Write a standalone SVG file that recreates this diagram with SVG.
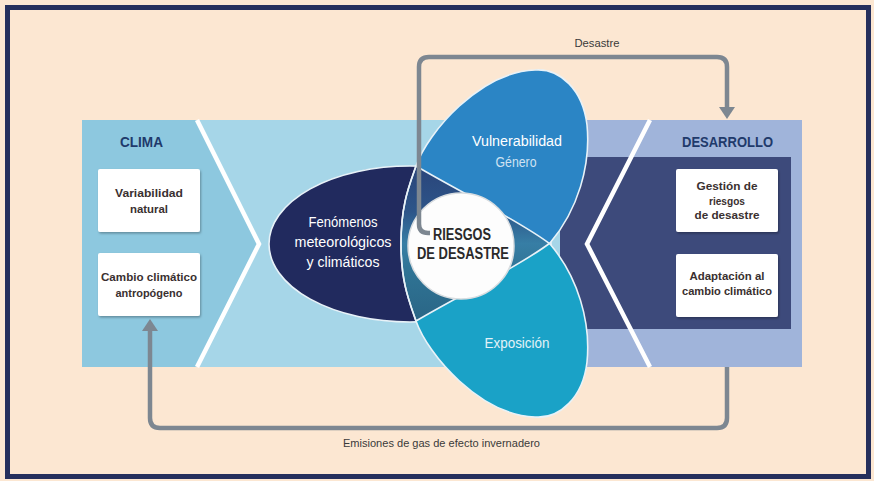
<svg xmlns="http://www.w3.org/2000/svg" width="874" height="481" viewBox="0 0 874 481">
<style>
.t{font-family:"Liberation Sans",Arial,sans-serif}
.box{fill:#ffffff;filter:url(#sh)}
.bt{font-family:"Liberation Sans",Arial,sans-serif;font-weight:bold;font-size:11.5px;fill:#3a3030;text-anchor:middle}
.hd{font-family:"Liberation Sans",Arial,sans-serif;font-weight:bold;font-size:15px;fill:#1f3a6b;text-anchor:middle}
.et{font-family:"Liberation Sans",Arial,sans-serif;font-size:14px;fill:#ffffff;text-anchor:middle}
.lb{font-family:"Liberation Sans",Arial,sans-serif;font-size:11px;fill:#3a3a3a;text-anchor:middle}
.conn{fill:none;stroke:#7d8791;stroke-width:4.5}
.chev{fill:none;stroke:#ffffff;stroke-width:4.5}
.edge{fill:none;stroke:#e8f2f8;stroke-width:1.6}
</style>
<defs>
<filter id="sh" x="-10%" y="-10%" width="130%" height="140%">
<feDropShadow dx="1" dy="1.5" stdDeviation="1.2" flood-color="#000000" flood-opacity="0.3"/>
</filter>
<marker id="ah" viewBox="0 0 12 16" refX="0" refY="8" markerWidth="12" markerHeight="16" markerUnits="userSpaceOnUse" orient="auto">
<path d="M0,0 L12,8 L0,16 Z" fill="#7d8791"/>
</marker>
<path id="vpath" d="M401,243.5 C401,205 409,186 416,166 C428,132 480,72 535,70 C560,68 583,90 587,125 C591,165 578,210 550,243 C520,266 460,295 416,321 C409,301 401,282 401,243.5 Z"/>
<clipPath id="eclip"><use href="#vpath" transform="matrix(1 0 0 -1 0 487)"/></clipPath>
<linearGradient id="lensg" gradientUnits="userSpaceOnUse" x1="0" y1="164" x2="0" y2="323">
<stop offset="0" stop-color="#2a4479"/>
<stop offset="0.3" stop-color="#2d5589"/>
<stop offset="0.5" stop-color="#377ea5"/>
<stop offset="0.68" stop-color="#2f7394"/>
<stop offset="1" stop-color="#2a6585"/>
</linearGradient>
</defs>

<rect x="0" y="0" width="874" height="481" fill="#fce7d2"/>
<rect x="7.5" y="7.5" width="861" height="469" fill="none" stroke="#252f5c" stroke-width="5"/>

<g id="bands">
<rect x="82" y="120" width="490" height="247" fill="#a6d6e8"/>
<polygon points="82,120 197,120 259,244 197,367 82,367" fill="#8dc8df"/>
<rect x="560" y="120" width="242" height="247" fill="#a0b4da"/>
<rect x="560" y="157" width="231" height="172" fill="#3d4a7b"/>
<path class="chev" d="M197,120 L259,244 L197,367"/>
<path class="chev" d="M650,120 L587,244 L650,367"/>
</g>

<g id="clima">
<text class="hd" x="141.5" y="147" textLength="43" lengthAdjust="spacingAndGlyphs">CLIMA</text>
</g>
<g id="desarrollo">
<text class="hd" x="727.5" y="147" textLength="91" lengthAdjust="spacingAndGlyphs">DESARROLLO</text>
</g>

<g id="variabilidad">
<rect class="box" x="98" y="169" width="102" height="63" rx="2"/>
<text class="bt" x="149" y="197" textLength="68" lengthAdjust="spacingAndGlyphs">Variabilidad</text>
<text class="bt" x="149" y="213" textLength="38" lengthAdjust="spacingAndGlyphs">natural</text>
</g>
<g id="cambio">
<rect class="box" x="98" y="253" width="102" height="63" rx="2"/>
<text class="bt" x="149" y="281" textLength="96" lengthAdjust="spacingAndGlyphs">Cambio climático</text>
<text class="bt" x="149" y="297" textLength="67" lengthAdjust="spacingAndGlyphs">antropógeno</text>
</g>
<g id="gestion">
<rect class="box" x="676" y="169" width="102" height="63" rx="2"/>
<text class="bt" x="727" y="190" textLength="61" lengthAdjust="spacingAndGlyphs">Gestión de</text>
<text class="bt" x="727" y="204.5" textLength="36" lengthAdjust="spacingAndGlyphs">riesgos</text>
<text class="bt" x="727" y="219" textLength="65" lengthAdjust="spacingAndGlyphs">de desastre</text>
</g>
<g id="adaptacion">
<rect class="box" x="676" y="254" width="102" height="63" rx="2"/>
<text class="bt" x="727" y="280" textLength="75" lengthAdjust="spacingAndGlyphs">Adaptación al</text>
<text class="bt" x="727" y="295" textLength="90" lengthAdjust="spacingAndGlyphs">cambio climático</text>
</g>

<g id="fenomenos">
<ellipse cx="410" cy="244" rx="141" ry="78" fill="#212a5e" stroke="#e8f2f8" stroke-width="1.6"/>
</g>
<g id="vulnerabilidad">
<use href="#vpath" fill="#2b85c5"/>
</g>
<g id="exposicion">
<use href="#vpath" fill="#1aa2c7" transform="matrix(1 0 0 -1 0 487)"/>
</g>
<g id="overlap">
<g clip-path="url(#eclip)">
<use href="#vpath" fill="url(#lensg)"/>
</g>
<use href="#vpath" class="edge"/>
<use href="#vpath" class="edge" transform="matrix(1 0 0 -1 0 487)"/>
</g>

<g id="riesgos">
<circle cx="461" cy="246" r="53" fill="#fdfdfd" stroke="#d9dde0" stroke-width="1.5"/>
</g>

<g id="connectors">
<path class="conn" d="M430,233 H428 Q419,233 419,224 V67 Q419,57 429,57 H717 Q727,57 727,67 V107" marker-end="url(#ah)"/>
<path class="conn" d="M727,367 V418 Q727,428 717,428 H160 Q150,428 150,418 V331" marker-end="url(#ah)"/>
</g>

<g id="labels">
<text class="et" x="343" y="227" textLength="69" lengthAdjust="spacingAndGlyphs">Fenómenos</text>
<text class="et" x="343" y="247" textLength="97" lengthAdjust="spacingAndGlyphs">meteorológicos</text>
<text class="et" x="343" y="267" textLength="73" lengthAdjust="spacingAndGlyphs">y climáticos</text>
<text class="et" x="517" y="146" font-size="13.5" textLength="90" lengthAdjust="spacingAndGlyphs">Vulnerabilidad</text>
<text class="et" x="516" y="167" font-size="12" textLength="41" lengthAdjust="spacingAndGlyphs" style="fill:#cfe2f2">Género</text>
<text class="et" x="517" y="348" font-size="13" textLength="65" lengthAdjust="spacingAndGlyphs" style="fill:#e3f3f8">Exposición</text>
<text class="t" x="462" y="240" font-size="16" font-weight="bold" fill="#2a2a2a" text-anchor="middle" textLength="58" lengthAdjust="spacingAndGlyphs">RIESGOS</text>
<text class="t" x="463" y="259" font-size="16" font-weight="bold" fill="#2a2a2a" text-anchor="middle" textLength="92" lengthAdjust="spacingAndGlyphs">DE DESASTRE</text>
<text class="lb" x="597" y="47" textLength="45" lengthAdjust="spacingAndGlyphs">Desastre</text>
<text class="lb" x="441.5" y="447" textLength="197" lengthAdjust="spacingAndGlyphs">Emisiones de gas de efecto invernadero</text>
</g>
</svg>
